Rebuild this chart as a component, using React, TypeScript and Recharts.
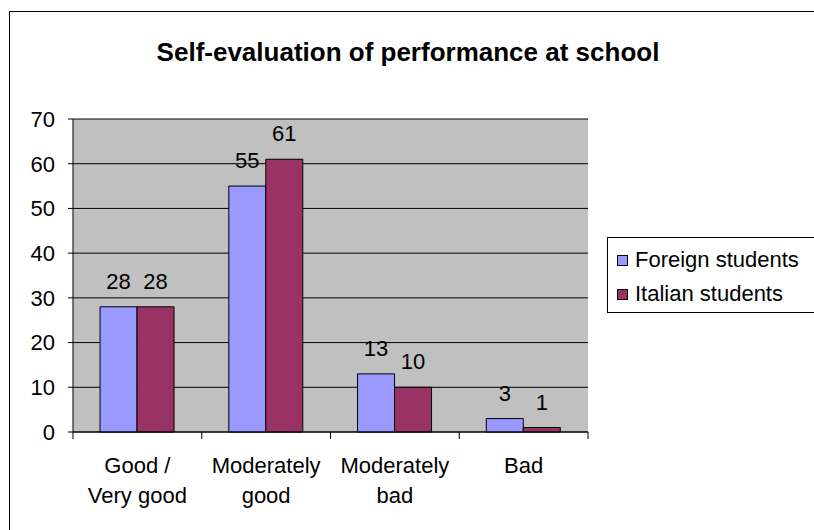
import { BarChart, Bar, XAxis, YAxis, CartesianGrid, Legend, LabelList } from 'recharts';

const categories = ['Good /\nVery good', 'Moderately\ngood', 'Moderately\nbad', 'Bad'];
const foreignStudents = [28, 55, 13, 3];
const italianStudents = [28, 61, 10, 1];
const yTicks = [0, 10, 20, 30, 40, 50, 60, 70];
const seriesNames = ['Foreign students', 'Italian students'];
const seriesColors = ['#9999ff', '#993366'];

const data = categories.map((name, i) => ({
  name,
  foreign: foreignStudents[i],
  italian: italianStudents[i],
}));

const W = 814;
const H = 530;
const PLOT_LEFT = 73;
const PLOT_RIGHT = 588;
const PLOT_TOP = 119;
const PLOT_BOTTOM = 432;
const BAND = (PLOT_RIGHT - PLOT_LEFT) / categories.length;
const FONT = '"Liberation Sans", Arial, sans-serif';

function CategoryTick({ x, y, payload, index }: any) {
  const lines = String(payload.value).split('\n');
  return (
    <g>
      <line x1={x - BAND / 2} x2={x - BAND / 2} y1={y} y2={y + 7} stroke="#000" />
      {index === categories.length - 1 && (
        <line x1={x + BAND / 2} x2={x + BAND / 2} y1={y} y2={y + 7} stroke="#000" />
      )}
      <text x={x} y={y} textAnchor="middle" fontSize={22} fill="#000" fontFamily={FONT}>
        {lines.map((l, i) => (
          <tspan key={i} x={x} dy={i === 0 ? 41 : 30}>
            {l}
          </tspan>
        ))}
      </text>
    </g>
  );
}

function LegendBox() {
  return (
    <div
      style={{
        border: '1px solid #000',
        boxSizing: 'border-box',
        width: 240,
        height: 76,
        paddingTop: 5,
        background: '#fff',
        fontFamily: FONT,
        fontSize: 22,
        color: '#000',
      }}
    >
      {seriesNames.map((n, i) => (
        <div key={n} style={{ display: 'flex', alignItems: 'center', height: 34 }}>
          <span
            style={{
              display: 'inline-block',
              width: 9,
              height: 9,
              border: '1px solid #000',
              background: seriesColors[i],
              marginLeft: 9,
              marginRight: 7,
            }}
          />
          <span>{n}</span>
        </div>
      ))}
    </div>
  );
}

export default function App() {
  return (
    <div style={{ position: 'absolute', left: 0, top: 0, width: W, height: H, overflow: 'hidden', background: '#fff', fontFamily: FONT }}>
      <div style={{ position: 'absolute', left: 9, top: 11, width: 900, height: 600, border: '1px solid #000' }} />
      <div
        style={{
          position: 'absolute',
          left: 0,
          top: 37,
          width: 816,
          textAlign: 'center',
          fontSize: 26,
          fontWeight: 700,
          lineHeight: '30px',
          color: '#000',
        }}
      >
        Self-evaluation of performance at school
      </div>
      <div style={{ position: 'absolute', left: 0, top: 0 }}>
        <BarChart
          width={W}
          height={H}
          data={data}
          margin={{ top: PLOT_TOP, right: W - PLOT_RIGHT, bottom: H - PLOT_BOTTOM - 98, left: PLOT_LEFT - 60 }}
          barCategoryGap="21%"
          barGap={0}
          style={{ fontFamily: FONT }}
        >
          <CartesianGrid vertical={false} stroke="#000" fill="#c0c0c0" />
          <XAxis
            dataKey="name"
            height={98}
            interval={0}
            tickLine={false}
            tickSize={0}
            tickMargin={0}
            axisLine={{ stroke: '#000' }}
            tick={<CategoryTick />}
          />
          <XAxis xAxisId="top" dataKey="name" orientation="top" height={0} tick={false} tickLine={false} axisLine={{ stroke: '#808080', strokeWidth: 2 }} />
          <YAxis
            width={60}
            domain={[0, 70]}
            ticks={yTicks}
            interval={0}
            tickSize={5}
            tickMargin={13}
            axisLine={{ stroke: '#000' }}
            tickLine={{ stroke: '#000' }}
            tick={{ fill: '#000', fontSize: 22 }}
          />
          <YAxis yAxisId="right" orientation="right" width={0} domain={[0, 70]} tick={false} tickLine={false} axisLine={{ stroke: '#808080', strokeWidth: 2 }} />
          <Legend
            layout="horizontal"
            verticalAlign="middle"
            align="center"
            wrapperStyle={{ left: 607, top: 237, width: 240, height: 76 }}
            content={() => <LegendBox />}
          />
          <Bar dataKey="foreign" name={seriesNames[0]} fill={seriesColors[0]} stroke="#000" strokeWidth={1} isAnimationActive={false}>
            <LabelList dataKey="foreign" position="top" offset={18} style={{ fill: '#000', fontSize: 22 }} />
          </Bar>
          <Bar dataKey="italian" name={seriesNames[1]} fill={seriesColors[1]} stroke="#000" strokeWidth={1} isAnimationActive={false}>
            <LabelList dataKey="italian" position="top" offset={18} style={{ fill: '#000', fontSize: 22 }} />
          </Bar>
        </BarChart>
      </div>
    </div>
  );
}
